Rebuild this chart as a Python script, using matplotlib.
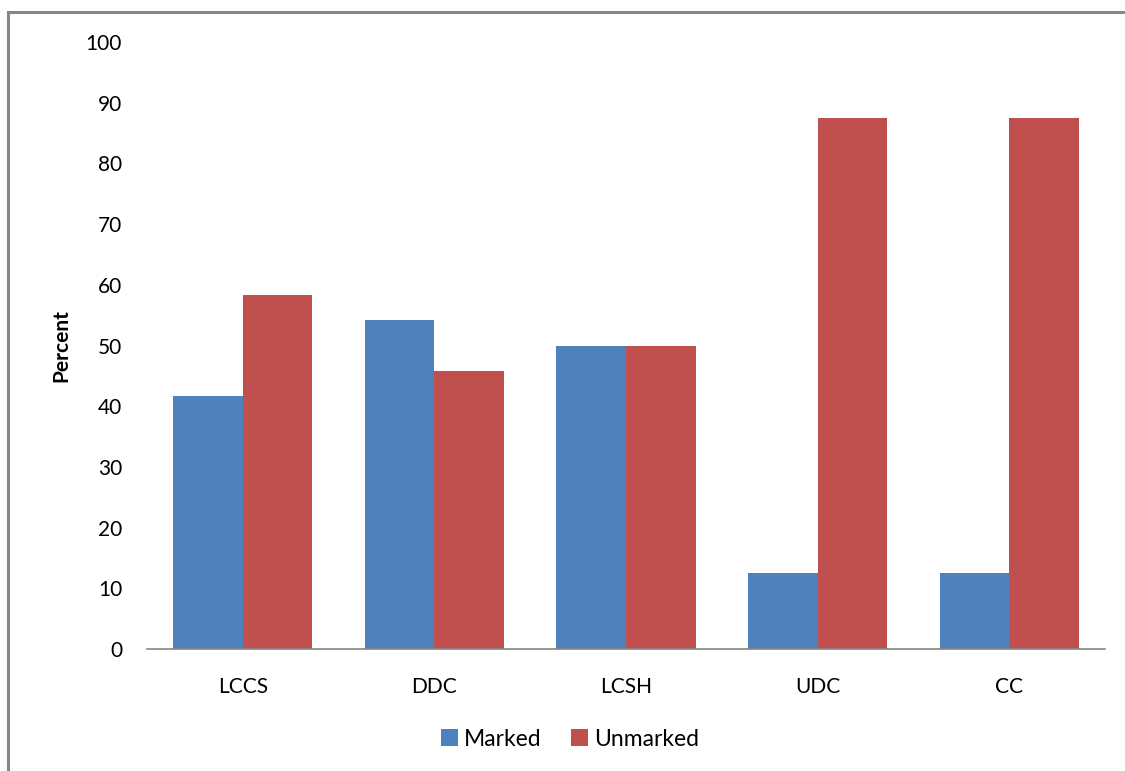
import matplotlib
matplotlib.use("Agg")
import matplotlib.pyplot as plt
import numpy as np
from matplotlib.patches import Rectangle

categories = ["LCCS", "DDC", "LCSH", "UDC", "CC"]
marked = [41.7, 54.2, 50.0, 12.5, 12.5]
unmarked = [58.3, 45.8, 50.0, 87.5, 87.5]
series_names = ["Marked", "Unmarked"]
yticks = [0, 10, 20, 30, 40, 50, 60, 70, 80, 90, 100]

blue = "#4F81BD"
red = "#C0504D"

plt.rcParams["font.family"] = ["Lato", "DejaVu Sans"]

fig = plt.figure(figsize=(11.25, 7.71), dpi=100)
ax = fig.add_axes([0.1307, 0.1582, 0.8515, 0.7873])

# outer chart-area border (left and top edges visible)
fig.patches.append(Rectangle((8 / 1125, -0.1), 1.2, 1 - 12 / 771 + 0.1,
                             transform=fig.transFigure, fill=False,
                             edgecolor="#868686", linewidth=2.2, zorder=0))

x = np.arange(len(categories))
w = 0.363
ax.bar(x - w / 2, marked, width=w, color=blue, label=series_names[0])
ax.bar(x + w / 2, unmarked, width=w, color=red, label=series_names[1])

ax.set_xlim(-0.5, len(categories) - 0.5)
ax.set_ylim(0, 100)
ax.set_yticks(yticks)
ax.set_xticks(x)
ax.set_xticklabels(categories)
ax.tick_params(axis="both", length=0, labelsize=15, colors="black")
ax.tick_params(axis="y", pad=18)
ax.tick_params(axis="x", pad=20)

for s in ["top", "right", "left"]:
    ax.spines[s].set_visible(False)
ax.spines["bottom"].set_color("#868686")
ax.spines["bottom"].set_linewidth(1.2)

ax.set_ylabel("Percent", fontsize=15, fontweight="bold", labelpad=10)

fig.legend(loc="center", bbox_to_anchor=(570 / 1125, 1 - 739 / 771),
           ncol=2, frameon=False, fontsize=16.5, handlelength=0.75,
           handleheight=0.75, handletextpad=0.25, columnspacing=1.3)

fig.savefig("out.png", dpi=100)
